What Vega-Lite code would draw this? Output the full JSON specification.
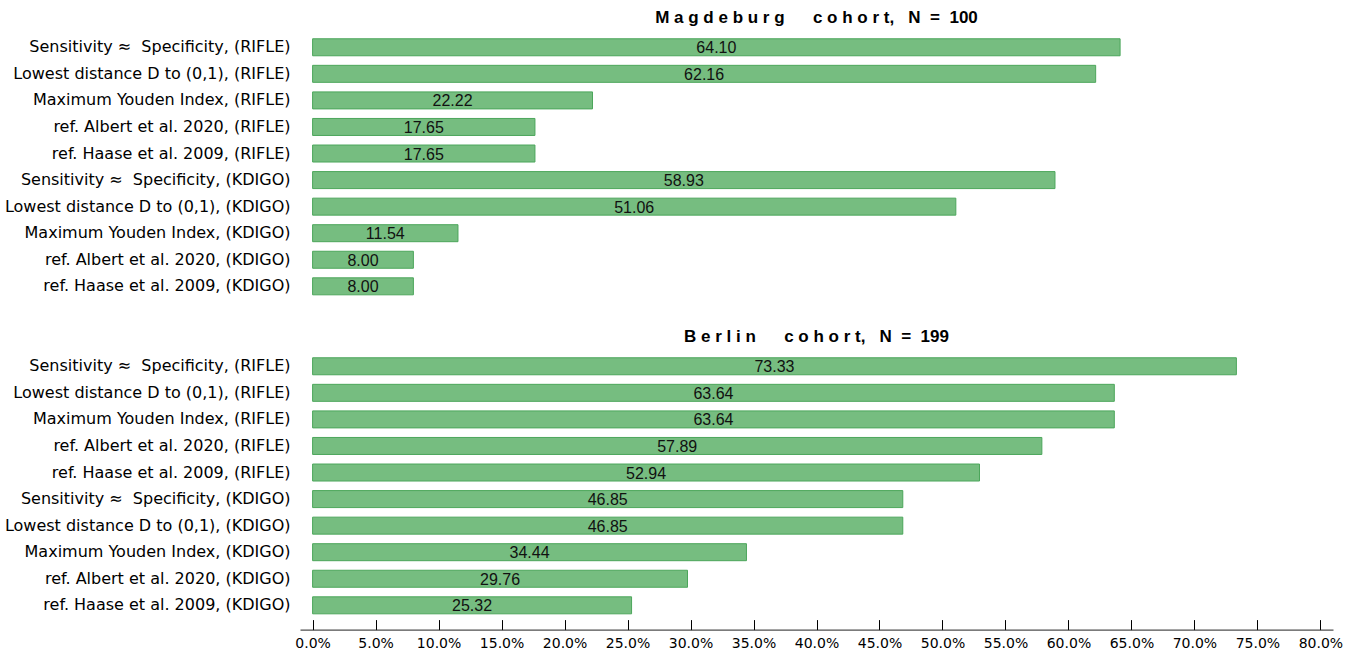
{
  "$schema": "https://vega.github.io/schema/vega-lite/v6.json",
  "background": "white",
  "padding": {"left": 4, "top": 9, "right": 5, "bottom": 5},
  "spacing": 28,
  "config": {
    "view": {"stroke": null},
    "font": "Liberation Sans",
    "title": {"fontSize": 17, "fontWeight": "bold", "font": "Liberation Sans", "color": "black", "anchor": "middle", "offset": 7},
    "axis": {"grid": false}
  },
  "resolve": {"scale": {"y": "independent"}},
  "datasets": {
    "rates": [
      {"cohort": "Magdeburg", "method": "Sensitivity ≈\u00a0 Specificity, (RIFLE)", "value": 64.10},
      {"cohort": "Magdeburg", "method": "Lowest distance D to (0,1), (RIFLE)", "value": 62.16},
      {"cohort": "Magdeburg", "method": "Maximum Youden Index, (RIFLE)", "value": 22.22},
      {"cohort": "Magdeburg", "method": "ref. Albert et al. 2020, (RIFLE)", "value": 17.65},
      {"cohort": "Magdeburg", "method": "ref. Haase et al. 2009, (RIFLE)", "value": 17.65},
      {"cohort": "Magdeburg", "method": "Sensitivity ≈\u00a0 Specificity, (KDIGO)", "value": 58.93},
      {"cohort": "Magdeburg", "method": "Lowest distance D to (0,1), (KDIGO)", "value": 51.06},
      {"cohort": "Magdeburg", "method": "Maximum Youden Index, (KDIGO)", "value": 11.54},
      {"cohort": "Magdeburg", "method": "ref. Albert et al. 2020, (KDIGO)", "value": 8.00},
      {"cohort": "Magdeburg", "method": "ref. Haase et al. 2009, (KDIGO)", "value": 8.00},
      {"cohort": "Berlin", "method": "Sensitivity ≈\u00a0 Specificity, (RIFLE)", "value": 73.33},
      {"cohort": "Berlin", "method": "Lowest distance D to (0,1), (RIFLE)", "value": 63.64},
      {"cohort": "Berlin", "method": "Maximum Youden Index, (RIFLE)", "value": 63.64},
      {"cohort": "Berlin", "method": "ref. Albert et al. 2020, (RIFLE)", "value": 57.89},
      {"cohort": "Berlin", "method": "ref. Haase et al. 2009, (RIFLE)", "value": 52.94},
      {"cohort": "Berlin", "method": "Sensitivity ≈\u00a0 Specificity, (KDIGO)", "value": 46.85},
      {"cohort": "Berlin", "method": "Lowest distance D to (0,1), (KDIGO)", "value": 46.85},
      {"cohort": "Berlin", "method": "Maximum Youden Index, (KDIGO)", "value": 34.44},
      {"cohort": "Berlin", "method": "ref. Albert et al. 2020, (KDIGO)", "value": 29.76},
      {"cohort": "Berlin", "method": "ref. Haase et al. 2009, (KDIGO)", "value": 25.32}
    ]
  },
  "vconcat": [
    {
      "title": {"text": "M a g d e b u r g\u00a0\u00a0\u00a0\u00a0\u00a0 c o h o r t,\u00a0\u00a0 N\u00a0 = \u00a0100"},
      "width": 1033,
      "height": 265.6,
      "data": {"name": "rates"},
      "transform": [
        {"filter": "datum.cohort === 'Magdeburg'"},
        {"calculate": "datum.value / 2", "as": "mid"}
      ],
      "encoding": {
        "y": {
          "field": "method", "type": "nominal", "sort": null,
          "scale": {"paddingInner": 0.36, "paddingOuter": 0.18},
          "axis": {"title": null, "domain": false, "ticks": false, "labelFontSize": 16, "labelPadding": 10, "labelColor": "black", "labelLimit": 400, "labelFont": "DejaVu Sans"}
        }
      },
      "layer": [
        {
          "mark": {"type": "bar", "fill": "#76bd80", "stroke": "#4ca65b", "strokeWidth": 1},
          "encoding": {
            "x": {"field": "value", "type": "quantitative", "scale": {"domain": [-1, 81], "nice": false, "zero": false}, "axis": null},
            "x2": {"datum": 0}
          }
        },
        {
          "mark": {"type": "text", "fontSize": 16, "font": "Liberation Sans", "color": "#111", "baseline": "middle", "align": "center", "dy": 1},
          "encoding": {
            "x": {"field": "mid", "type": "quantitative"},
            "text": {"field": "value", "type": "quantitative", "format": ".2f"}
          }
        }
      ]
    },
    {
      "title": {"text": "B e r l i n\u00a0\u00a0\u00a0\u00a0\u00a0 c o h o r t,\u00a0\u00a0 N\u00a0 = \u00a0199"},
      "width": 1033,
      "height": 265.6,
      "data": {"name": "rates"},
      "transform": [
        {"filter": "datum.cohort === 'Berlin'"},
        {"calculate": "datum.value / 2", "as": "mid"}
      ],
      "encoding": {
        "y": {
          "field": "method", "type": "nominal", "sort": null,
          "scale": {"paddingInner": 0.36, "paddingOuter": 0.18},
          "axis": {"title": null, "domain": false, "ticks": false, "labelFontSize": 16, "labelPadding": 10, "labelColor": "black", "labelLimit": 400, "labelFont": "DejaVu Sans"}
        }
      },
      "layer": [
        {
          "mark": {"type": "bar", "fill": "#76bd80", "stroke": "#4ca65b", "strokeWidth": 1},
          "encoding": {
            "x": {
              "field": "value", "type": "quantitative",
              "scale": {"domain": [-1, 81], "nice": false, "zero": false},
              "axis": {
                "title": null,
                "values": [0, 2.5, 5, 7.5, 10, 12.5, 15, 17.5, 20, 22.5, 25, 27.5, 30, 32.5, 35, 37.5, 40, 42.5, 45, 47.5, 50, 52.5, 55, 57.5, 60, 62.5, 65, 67.5, 70, 72.5, 75, 77.5, 80],
                "labelExpr": "datum.value % 5 === 0 ? format(datum.value, '.1f') + '%' : ''",
                "tickSize": {"condition": {"test": "datum.value % 5 === 0", "value": -10}, "value": -7},
                "tickColor": "black",
                "tickWidth": 1,
                "domainColor": "#222",
                "domainWidth": 1,
                "offset": 11,
                "labelFont": "DejaVu Sans",
                "labelFontSize": 14,
                "labelColor": "black",
                "labelPadding": 17,
                "labelFlush": false,
                "labelOverlap": false
              }
            },
            "x2": {"datum": 0}
          }
        },
        {
          "mark": {"type": "text", "fontSize": 16, "font": "Liberation Sans", "color": "#111", "baseline": "middle", "align": "center", "dy": 1},
          "encoding": {
            "x": {"field": "mid", "type": "quantitative"},
            "text": {"field": "value", "type": "quantitative", "format": ".2f"}
          }
        }
      ]
    }
  ]
}
